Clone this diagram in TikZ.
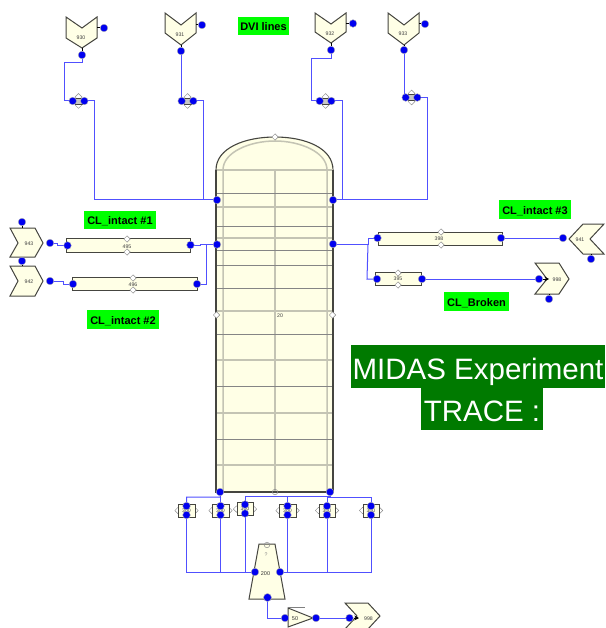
\documentclass[tikz,border=0pt]{standalone}
\usepackage{fontspec}
\setmainfont{Liberation Sans}
\usetikzlibrary{backgrounds,arrows.meta,shapes.geometric}
\definecolor{cream}{HTML}{FFFFE6}
\definecolor{wireblue}{HTML}{5050FF}
\definecolor{dotblue}{HTML}{0000F0}
\definecolor{lightg}{HTML}{C4C4B4}
\definecolor{darkg}{HTML}{858585}
\definecolor{edgeg}{HTML}{454540}
\definecolor{midg}{HTML}{007A00}
\tikzset{
  compshape/.style={draw=edgeg,fill=cream,line width=1pt,line join=miter},
  wire/.style={draw=wireblue,line width=1pt},
  pindot/.style={circle,fill=dotblue,draw=gray!60,line width=0.4pt,inner sep=0pt,minimum size=7.6pt},
  smalllab/.style={font=\fontsize{5.2}{6}\selectfont,text=black!75,inner sep=0pt},
  greenlab/.style={fill=green,font=\bfseries\fontsize{11}{12}\selectfont,text=black,inner sep=0pt,anchor=center,text height=10pt,text depth=0pt},
  titlebox/.style={fill=midg,text=white,font=\fontsize{29.5}{32}\selectfont,inner sep=0pt,anchor=center},
  diam/.style={diamond,draw=gray!90,fill=white,line width=0.5pt,inner sep=0pt,minimum size=6.5pt},
  ring/.style={circle,draw=gray!90,line width=0.5pt,inner sep=0pt,minimum size=5.5pt},
  stub/.style={draw=black,line width=1pt},
  gridl/.style={draw=darkg,line width=0.8pt},
  gridh/.style={draw=lightg,line width=1.5pt},
  tip/.style={draw=black,line width=0.8pt,-{Stealth[length=4.5pt,width=4.5pt]}}
}
% valve with two side pins (upper lines)
\newcommand{\hvalve}[3]{%
  \node[diam,minimum size=7pt] (#1u) at (#2,#3-4) {};
  \node[diam,minimum size=7pt] (#1l) at (#2,#3+4) {};
  \draw[draw=edgeg,fill=gray!45,line width=0.5pt] (#2-3.5,#3-3) rectangle (#2+3.5,#3+3);
  \node[pindot] (#1a) at (#2-5.8,#3) {};
  \node[pindot] (#1b) at (#2+5.8,#3) {};}
% valve with two pins, one above the other (lower lines)
\newcommand{\vvalve}[3]{%
  \node[diam] (#1l) at (#2-8.5,#3) {};
  \node[diam] (#1r) at (#2+8.5,#3) {};
  \draw[draw=edgeg,fill=cream,line width=0.8pt] (#2-8,#3-6.5) rectangle (#2+8.5,#3+6.5);
  \node[smalllab] (#1t) at (#2,#3) {300};
  \node[pindot] (#1a) at (#2,#3-4.5) {};
  \node[pindot] (#1b) at (#2,#3+4.5) {};}
\begin{document}
\begin{tikzpicture}[x=1pt,y=-1pt]
\useasboundingbox (0,0) rectangle (605,628);
% ---------- vessel
\draw[draw=edgeg,fill=cream,line width=1.1pt] (216,170) .. controls (216,148) and (245,137) .. (275,137)
  .. controls (305,137) and (333,148) .. (333,170) -- (333,492) -- (216,492) -- cycle;
\draw[gridh] (223,492) -- (223,170) .. controls (223,152) and (250,141) .. (275,141)
  .. controls (300,141) and (327,152) .. (327,170) -- (327,492);
\draw[gridh] (275,170) -- (275,492);
\foreach \yy in {170,207,238,311,360,413,465} {\draw[gridh] (216.5,\yy) -- (332.5,\yy);}
\foreach \yy in {193,226,250,265,288,334,386,439} {\draw[gridl] (216.5,\yy) -- (332.5,\yy);}
\draw[draw=edgeg,line width=1.1pt] (216,170) -- (216,492) -- (333,492) -- (333,170);
\node[diam] (vtop) at (275,137) {};
\node[ring] (vbot) at (275,492) {};
\node[diam] (vl) at (216.5,315) {};
\node[diam] (vr) at (332.5,315) {};
\node[smalllab] (vlab) at (280,316) {20};
% ---------- top chevrons
\draw[compshape] (66,17) -- (82,28) -- (97,17) -- (97,38) -- (82,48) -- (66,38) -- cycle;
\draw[compshape] (165,13) -- (181,25) -- (196,13) -- (196,33) -- (181,45) -- (165,33) -- cycle;
\draw[compshape] (315,13) -- (331,24) -- (346,13) -- (346,32) -- (331,43) -- (315,32) -- cycle;
\draw[compshape] (388,13) -- (404,25) -- (419,13) -- (419,33) -- (404,45) -- (388,33) -- cycle;
\node[smalllab] (c930) at (81,38) {930};
\node[smalllab] (c931) at (180,35) {931};
\node[smalllab] (c932) at (330,33.5) {932};
\node[smalllab] (c933) at (403,34) {933};
% ---------- side chevrons
\draw[compshape] (10,228) -- (35,228) -- (43,243) -- (35,257) -- (10,257) -- (18,243) -- cycle;
\draw[compshape] (10,266) -- (35,266) -- (43,281) -- (35,296) -- (10,296) -- (18,281) -- cycle;
\node[smalllab] (c943) at (29,244) {943};
\node[smalllab] (c942) at (29,282) {942};
\draw[compshape] (569,239) -- (583,224) -- (604,224) -- (590,239) -- (604,254) -- (583,254) -- cycle;
\node[smalllab] (c941) at (580,239.5) {941};
\draw[compshape] (535,263) -- (559,263) -- (569,279) -- (559,294) -- (535,294) -- (547,279) -- cycle;
\node[smalllab] (c996) at (557,279.5) {998};
\draw[compshape] (345,603) -- (368,603) -- (380,616) -- (368,629) -- (345,629) -- (357,616) -- cycle;
\node[smalllab] (c998) at (368.5,618.5) {998};
% ---------- pipes
\draw[compshape] (66,238) rectangle (190,252);
\draw[compshape] (72,277) rectangle (197,290);
\draw[compshape] (378,232) rectangle (502,245);
\draw[compshape] (375,272) rectangle (421,285);
\node[smalllab] (p495) at (127,247) {495};
\node[smalllab] (p496) at (133,285) {496};
\node[smalllab] (p398) at (439,239) {398};
\node[smalllab] (p395) at (398,279) {395};
\foreach \nn/\xx/\ya/\yb in {a/127/239/252,b/133/278/290,c/441/232/245,d/398/273/285}{
  \node[diam] (pd\nn u) at (\xx,\ya) {};
  \node[diam] (pd\nn l) at (\xx,\yb) {};}
% ---------- pump and tee
\draw[compshape] (259,544) -- (275,544) -- (285,599) -- (249,599) -- cycle;
\node[ring] (ptop) at (267,545) {};
\node[smalllab,text=black!50] (pq) at (266,554.5) {?};
\node[font=\fontsize{5.5}{6}\selectfont,text=black!80,inner sep=0pt] (pump) at (265.5,573.5) {200};
\draw[compshape] (288,608) -- (313,618) -- (288,627) -- cycle;
\draw[draw=gray,line width=0.5pt] (288,607) -- (305,607);
\node[font=\fontsize{5.5}{6}\selectfont,text=black!80,inner sep=0pt] (t50) at (295,619) {50};
% ---------- valves
\hvalve{va}{78.5}{101}
\hvalve{vb}{187.5}{101}
\hvalve{vc}{325.5}{101}
\hvalve{vd}{411.5}{97.5}
\vvalve{w1}{186.5}{510.5}
\vvalve{w2}{220.5}{510.5}
\vvalve{w3}{245}{509}
\vvalve{w4}{287.5}{510.5}
\vvalve{w5}{327}{510.5}
\vvalve{w6}{371}{510.5}
% ---------- pins
\node[pindot] (s930) at (104,28) {};
\node[pindot] (b930) at (82,55) {};
\node[pindot] (s931) at (202,25) {};
\node[pindot] (b931) at (181,51) {};
\node[pindot] (s932) at (353,23.5) {};
\node[pindot] (b932) at (331,50) {};
\node[pindot] (s933) at (425,24) {};
\node[pindot] (b933) at (404,50) {};
\node[pindot] (vdl) at (217,200) {};
\node[pindot] (vdr) at (333,200) {};
\node[pindot] (vml) at (217,244.5) {};
\node[pindot] (vmr) at (333,244) {};
\node[pindot] (vbl) at (220,492) {};
\node[pindot] (vbr) at (330,492) {};
\node[pindot] (t943) at (22,222) {};
\node[pindot] (r943) at (50,243) {};
\node[pindot] (t942) at (22,261) {};
\node[pindot] (r942) at (50,281) {};
\node[pindot] (a495) at (67.5,245.5) {};
\node[pindot] (b495) at (190.5,245) {};
\node[pindot] (a496) at (73,284) {};
\node[pindot] (b496) at (197,284) {};
\node[pindot] (a398) at (377.5,238) {};
\node[pindot] (b398) at (501,238) {};
\node[pindot] (a395) at (377,279) {};
\node[pindot] (b395) at (422,279) {};
\node[pindot] (l941) at (563,238) {};
\node[pindot] (b941) at (591,259) {};
\node[pindot] (l996) at (539,279) {};
\node[pindot] (b996) at (549,299) {};
\node[pindot] (pl) at (255,572) {};
\node[pindot] (pr) at (280,572) {};
\node[pindot,minimum width=8pt] (pb) at (267.5,597.5) {};
\node[pindot] (t50l) at (285,618) {};
\node[pindot] (t50r) at (316,618) {};
\node[pindot] (l998) at (349.5,618) {};
% ---------- wires (behind everything)
\begin{scope}[on background layer]
\draw[wire] (b930.center) -- (82,63) -- (64,63) -- (64,101) -- (vaa.center);
\draw[wire] (vab.center) -- (94,101) -- (94,200) -- (vdl.center);
\draw[wire] (b931.center) -- (181,101) -- (vba.center);
\draw[wire] (vbb.center) -- (203,101) -- (203,200);
\draw[wire] (b932.center) -- (331,59) -- (311,59) -- (311,101) -- (vca.center);
\draw[wire] (vcb.center) -- (342,101) -- (342,200) -- (vdr.center);
\draw[wire] (b933.center) -- (404,97.5) -- (vda.center);
\draw[wire] (vdb.center) -- (427,97.5) -- (427,200) -- (vdr.center);
\draw[wire] (r943.center) -- (57,243) -- (57,245.5) -- (a495.center);
\draw[wire] (b495.center) -- (200,245) -- (200,244.5) -- (vml.center);
\draw[wire] (r942.center) -- (63,281) -- (63,284) -- (a496.center);
\draw[wire] (b496.center) -- (206,284) -- (206,244.5);
\draw[wire] (vmr.center) -- (368,244) -- (368,238) -- (a398.center);
\draw[wire] (368,244) -- (367,279) -- (a395.center);
\draw[wire] (b398.center) -- (l941.center);
\draw[wire] (b395.center) -- (l996.center);
\draw[wire] (w1a.center) -- (186.5,497) -- (220.5,497) -- (vbl.center);
\draw[wire] (w2a.center) -- (220.5,497);
\draw[wire] (w3a.center) -- (245,496) -- (330,496) -- (vbr.center);
\draw[wire] (w4a.center) -- (287.5,496);
\draw[wire] (w5a.center) -- (327,496);
\draw[wire] (w6a.center) -- (371,497) -- (327,497);
\draw[wire] (w1b.center) -- (186.5,572) -- (pl.center);
\draw[wire] (w2b.center) -- (220.5,572);
\draw[wire] (w3b.center) -- (245,572);
\draw[wire] (w4b.center) -- (287.5,572);
\draw[wire] (w5b.center) -- (327,572);
\draw[wire] (w6b.center) -- (371,572) -- (pr.center);
\draw[wire] (pb.center) -- (267.5,618) -- (t50l.center);
\draw[wire] (t50r.center) -- (l998.center);
\end{scope}
\draw[stub] (b930) -- (82,48);
\draw[stub] (b931) -- (181,45);
\draw[stub] (b932) -- (331,43);
\draw[stub] (b933) -- (404,45);
\draw[stub] (s930) -- (97,28);
\draw[stub] (s931) -- (196,25);
\draw[stub] (s932) -- (346,23.5);
\draw[stub] (s933) -- (419,24);
\draw[stub] (t943) -- (22,228);
\draw[stub] (t942) -- (22,266);
\draw[stub] (b941) -- (591,254);
\draw[stub] (b996) -- (549,294);
\draw[tip] (l996) -- (549,279);
\draw[tip] (l998) -- (359,618);
% ---------- labels
\node[greenlab,minimum width=51pt,minimum height=18pt] (dvi) at (263.5,26) {DVI lines};
\node[greenlab,minimum width=72pt,minimum height=18pt] (cl1) at (120,220) {CL\_intact \#1};
\node[greenlab,minimum width=72pt,minimum height=19pt] (cl2) at (123,319.5) {CL\_intact \#2};
\node[greenlab,minimum width=72pt,minimum height=19pt] (cl3) at (535,209.5) {CL\_intact \#3};
\node[greenlab,minimum width=65pt,minimum height=19pt] (clb) at (476.5,301.5) {CL\_Broken};
\node[titlebox,minimum width=254pt,minimum height=43pt] (midas) at (478,366.5) {\raisebox{-12.5pt}[0pt][0pt]{MIDAS Experiment}};
\node[titlebox,minimum width=122pt,minimum height=42pt] (trace) at (482,409) {\raisebox{-12pt}[0pt][0pt]{TRACE :}};
\end{tikzpicture}
\end{document}
